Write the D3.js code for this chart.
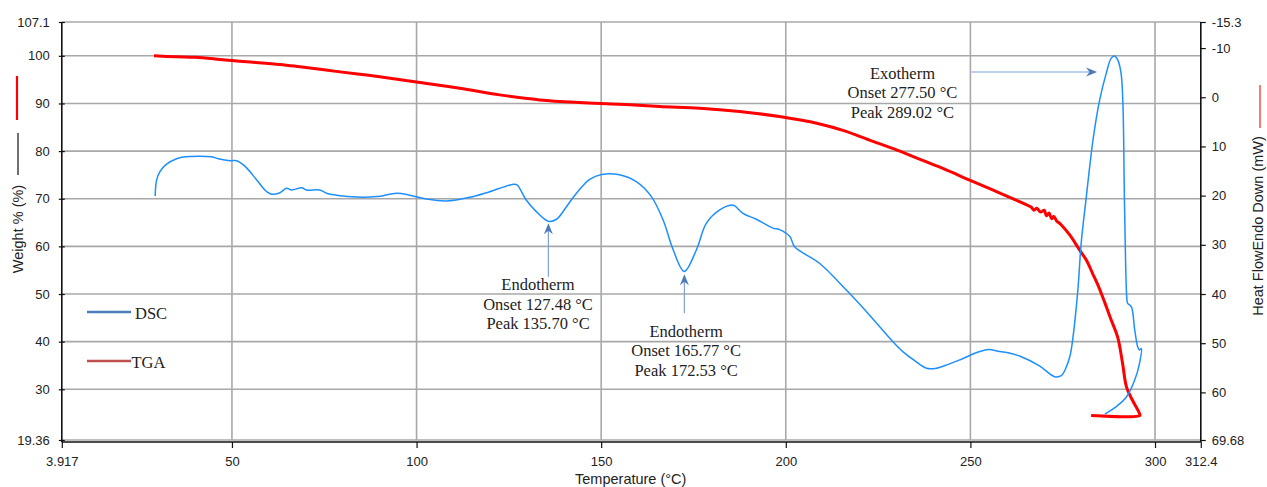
<!DOCTYPE html>
<html>
<head>
<meta charset="utf-8">
<script src="https://cdn.jsdelivr.net/npm/d3@7/dist/d3.min.js"></script>
<style>
  html, body { margin: 0; padding: 0; background: #fff; }
  svg { display: block; }
  .tick-label { font-family: "Liberation Sans", Arial, sans-serif; font-size: 13px; fill: #222; }
  .axis-title { font-family: "Liberation Sans", Arial, sans-serif; font-size: 14.5px; fill: #222; }
  .serif { font-family: "Liberation Serif", "Times New Roman", serif; font-size: 16.5px; fill: #222; }
</style>
</head>
<body>
<svg id="chart" width="1267" height="487"></svg>
<script>
// Axis extents and tick values
const tempDomain = [3.917, 312.4];
const weightDomain = [19.36, 107.1];
const heatDomain = [-15.3, 69.68];
const tempTicks = [3.917, 50, 100, 150, 200, 250, 300, 312.4];
const weightTicks = [107.1, 100, 90, 80, 70, 60, 50, 40, 30, 19.36];
const heatTicks = [-15.3, -10, 0, 10, 20, 30, 40, 50, 60, 69.68];

// TGA: temperature (°C), weight (%)
const tgaTemp = [28.9, 35, 40, 45, 50, 55, 63, 68.4, 76.5, 84, 90, 100.9, 111.7, 122.5, 133.4, 144.2,
  155, 165.8, 176.7, 187.5, 198.3, 209.2, 215.7, 222.7, 229.5, 236.2, 243, 249.8, 256.5, 263.3,
  266.5, 267.2, 268, 269, 270, 270.6, 271.3, 272, 272.6, 273.3, 274.5, 276.9, 279.6, 281.5,
  283.1, 284.8, 286.3, 287.9, 289.9, 291.2, 292.3, 293.9, 295.8, 295.9, 282.7];
const tgaWeight = [100.0, 99.8, 99.7, 99.4, 99.0, 98.7, 98.2, 97.7, 96.9, 96.2, 95.6, 94.4, 93.2, 91.8, 90.75, 90.2,
  89.85, 89.35, 89.0, 88.3, 87.25, 85.7, 84.3, 82.3, 80.4, 78.3, 76.2, 73.9, 71.7, 69.4,
  68.2, 67.6, 68.0, 67.2, 67.6, 66.4, 67.0, 65.8, 66.3, 65.4, 64.6, 62.4, 59.2, 57.0,
  54.3, 51.4, 48.4, 45.0, 40.9, 35.5, 30.4, 27.7, 24.9, 24.5, 24.5];

// DSC: temperature (°C), heat flow (mW, endo down)
const dscTemp = [29.2, 29.6, 30.5, 32.3, 35.0, 37.3, 44.5, 46.3, 49.5, 51.3, 53.5, 56.7, 59.4, 60.7,
  63.0, 64.8, 66.2, 68.9, 70.2, 73.8, 75.6, 78.3, 83.8, 89.2, 94.6, 98.2, 102.7, 108.1, 114.4,
  119.8, 126.2, 127.2, 129.8, 132.5, 135.7, 137.9, 140.6, 143.3, 146.9, 150.1, 154.6, 159.6,
  163.6, 166.8, 169.5, 172.5, 175.8, 178.5, 182.1, 185.3, 186.2, 188.4, 192.0, 196.5, 198.3,
  201.1, 202.4, 209.2, 216.4, 222.7, 229.0, 231.7, 235.0, 238.1, 240.8, 244.0, 247.1, 252.5,
  255.0, 257.9, 260.5, 263.3, 268.7, 272.8, 274.6, 276.0, 277.0, 277.7, 279.1, 280.0, 281.4,
  283.2, 285.0, 286.8, 288.1, 289.0, 289.9, 290.8, 291.3, 291.7, 292.0, 292.4, 292.6, 293.6,
  294.5, 295.3, 295.8, 296.3, 295.8, 294.5, 292.3, 289.5, 286.4];
const dscHeat = [20.1, 16.8, 15.1, 13.6, 12.5, 12.1, 12.1, 12.5, 12.9, 12.9, 14.0, 16.8, 19.2, 19.7,
  19.4, 18.5, 18.85, 18.4, 18.85, 18.85, 19.5, 19.9, 20.3, 20.2, 19.5, 19.9, 20.7, 21.1, 20.35,
  19.2, 17.7, 17.8, 21.0, 23.3, 25.2, 24.8, 22.25, 19.5, 16.7, 15.7, 15.7, 17.2,
  20.2, 25.0, 31.0, 35.4, 31.0, 25.6, 22.9, 21.9, 22.1, 23.6, 24.8, 26.6, 26.9,
  28.3, 30.4, 33.8, 39.2, 44.3, 49.7, 51.7, 53.6, 55.1, 55.1, 54.3, 53.4, 51.7,
  51.3, 51.7, 52.0, 52.6, 54.6, 56.8, 56.6, 54.8, 52.5, 49.3, 39.2, 29.7, 20.2,
  8.7, 0.6, -4.9, -7.9, -8.4, -7.6, -4.9, 1.2, 20.2, 32.4, 41.2, 41.9, 42.6,
  47.3, 50.7, 51.4, 51.1, 54.1, 57.5, 60.9, 62.9, 64.4];

// Thermal events
const eventNames = ["Endotherm", "Endotherm", "Exotherm"];
const eventOnsets = [127.48, 165.77, 277.50];
const eventPeaks = [135.70, 172.53, 289.02];

const legendNames = ["DSC", "TGA"];

const svg = d3.select("#chart");

const x = d3.scaleLinear().domain(tempDomain).range([61.8, 1200.8]);
const yW = d3.scaleLinear().domain(weightDomain).range([440, 22]);
const yH = d3.scaleLinear().domain(heatDomain).range([22, 440]);

const gridColor = "#a8a8a8";

// grid
const grid = svg.append("g");
grid.selectAll("line.h").data(weightTicks).join("line")
  .attr("x1", x(tempDomain[0])).attr("x2", x(tempDomain[1]))
  .attr("y1", d => yW(d)).attr("y2", d => yW(d))
  .attr("stroke", gridColor).attr("stroke-width", 1.6);
grid.selectAll("line.v").data(tempTicks.slice(1, -1)).join("line")
  .attr("x1", d => x(d)).attr("x2", d => x(d))
  .attr("y1", yW(weightDomain[1])).attr("y2", yW(weightDomain[0]))
  .attr("stroke", gridColor).attr("stroke-width", 1.6);

// axes
const fmtTick = d => String(d);
const axisBottom = d3.axisBottom(x).tickValues(tempTicks).tickSize(6).tickFormat(fmtTick);
const axisLeft = d3.axisLeft(yW).tickValues(weightTicks).tickSize(3).tickFormat(fmtTick);
const axisRight = d3.axisRight(yH).tickValues(heatTicks).tickSize(5).tickFormat(fmtTick);

function styleAxis(g) {
  g.select(".domain").attr("stroke", "#111").attr("stroke-width", 1.6);
  g.selectAll(".tick line").attr("stroke", "#111").attr("stroke-width", 1.2);
  g.selectAll(".tick text").attr("class", "tick-label").attr("font-family", null).attr("font-size", null);
  g.attr("font-family", null).attr("font-size", null);
}

const gB = svg.append("g").attr("transform", `translate(0,${yW(weightDomain[0]) + 2})`).call(axisBottom);
gB.select(".domain").attr("d", `M${x(tempDomain[0])},0H${x(tempDomain[1])}`);
styleAxis(gB);
gB.selectAll(".tick text").attr("dy", "1.05em").attr("y", 10);

const gL = svg.append("g").attr("transform", `translate(${x(tempDomain[0])},0)`).call(axisLeft);
gL.select(".domain").attr("d", `M0,${yW(weightDomain[1])}V${yW(weightDomain[0]) + 2}`);
styleAxis(gL);
gL.selectAll(".tick line").attr("x1", 3).attr("x2", -3);
gL.selectAll(".tick text").attr("x", -12);

const gR = svg.append("g").attr("transform", `translate(${x(tempDomain[1])},0)`).call(axisRight);
gR.select(".domain").attr("d", `M0,${yH(heatDomain[0])}V${yH(heatDomain[1]) + 2}`);
styleAxis(gR);
gR.selectAll(".tick text").attr("x", 11);

// axis titles
svg.append("text").attr("class", "axis-title")
  .attr("x", x(158)).attr("y", 484).attr("text-anchor", "middle")
  .text("Temperature (°C)");
svg.append("text").attr("class", "axis-title")
  .attr("transform", "translate(23,229) rotate(-90)").attr("text-anchor", "middle")
  .text("Weight % (%)");
svg.append("line").attr("x1", 18).attr("x2", 18).attr("y1", 133).attr("y2", 175)
  .attr("stroke", "#111").attr("stroke-width", 1.2);
svg.append("line").attr("x1", 17).attr("x2", 17).attr("y1", 76).attr("y2", 120)
  .attr("stroke", "#ff0000").attr("stroke-width", 2.2);
svg.append("text").attr("class", "axis-title")
  .attr("transform", "translate(1263,226) rotate(-90)").attr("text-anchor", "middle")
  .text("Heat FlowEndo Down (mW)");
svg.append("line").attr("x1", 1260).attr("x2", 1260).attr("y1", 85).attr("y2", 128)
  .attr("stroke", "#f25a5a").attr("stroke-width", 1.6);

// curves
const tga = tgaTemp.map((t, i) => [t, tgaWeight[i]]);
const dsc = dscTemp.map((t, i) => [t, dscHeat[i]]);

svg.append("path").datum(tga)
  .attr("fill", "none").attr("stroke", "#ff0000").attr("stroke-width", 3).attr("stroke-linejoin", "round")
  .attr("d", d3.line().x(d => x(d[0])).y(d => yW(d[1])).curve(d3.curveCatmullRom.alpha(0.5)));

svg.append("path").datum(dsc)
  .attr("fill", "none").attr("stroke", "#1e8fff").attr("stroke-width", 1.5).attr("stroke-linejoin", "round")
  .attr("d", d3.line().x(d => x(d[0])).y(d => yH(d[1])).curve(d3.curveCatmullRom.alpha(0.5)));

// legend
const legendColors = ["#4a7ebb", "#c0504d"];
const legendY = [312, 361];
legendNames.forEach((name, i) => {
  svg.append("line").attr("x1", 87).attr("x2", 131).attr("y1", legendY[i]).attr("y2", legendY[i])
    .attr("stroke", legendColors[i]).attr("stroke-width", 2.4);
  svg.append("text").attr("class", "serif").attr("x", i === 0 ? 135 : 131.5).attr("y", legendY[i] + 7)
    .text(name);
});

// event annotations: arrow (tail -> tip) and three-line label, in data units
const arrowTail = [[135.70, 36.5], [172.53, 43.9], [250.3, -5.14]];
const arrowTip  = [[135.70, 25.6], [172.53, 36.0], [284.3, -5.14]];
const labelAt   = [[132.9, 39.2], [173.0, 48.7], [231.6, -3.8]];
const fmt2 = d3.format(".2f");

function arrowHead(tx, ty, ang) {
  // notched arrowhead pointing along angle ang
  const L = 11, W = 4.5, N = 3.5;
  const c = Math.cos(ang), s = Math.sin(ang);
  const p = (u, v) => [tx - u * c - v * (-s), ty - u * s - v * c];
  const pts = [p(0, 0), p(L, W), p(L - N, 0), p(L, -W)];
  return "M" + pts.map(q => q.join(",")).join("L") + "Z";
}

eventNames.forEach((name, i) => {
  const x1 = x(arrowTail[i][0]), y1 = yH(arrowTail[i][1]);
  const x2 = x(arrowTip[i][0]), y2 = yH(arrowTip[i][1]);
  const ang = Math.atan2(y2 - y1, x2 - x1);
  svg.append("line").attr("x1", x1).attr("y1", y1)
    .attr("x2", x2 - 6 * Math.cos(ang)).attr("y2", y2 - 6 * Math.sin(ang))
    .attr("stroke", "#7ea2d4").attr("stroke-width", 1.2);
  svg.append("path").attr("d", arrowHead(x2, y2, ang)).attr("fill", "#4f79b6");

  const lx = x(labelAt[i][0]), ly = yH(labelAt[i][1]);
  const lines = [name, `Onset ${fmt2(eventOnsets[i])} °C`, `Peak ${fmt2(eventPeaks[i])} °C`];
  lines.forEach((t, k) => {
    svg.append("text").attr("class", "serif").attr("x", lx).attr("y", ly + k * 19.5)
      .attr("text-anchor", "middle").text(t);
  });
});
</script>
</body>
</html>
